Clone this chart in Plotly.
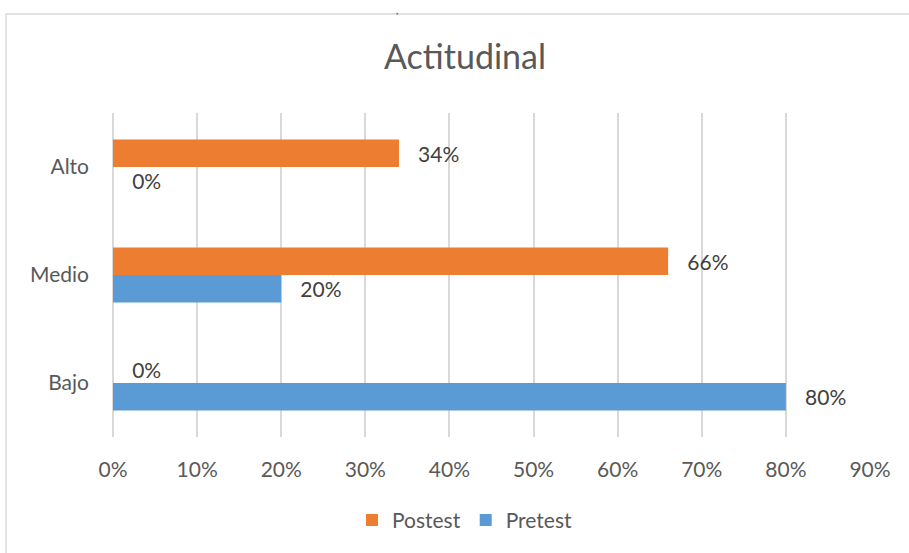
import plotly.graph_objects as go

categories = ["Bajo", "Medio", "Alto"]
pretest = [0.80, 0.20, 0.00]
postest = [0.00, 0.66, 0.34]
x_ticks = [0, 0.1, 0.2, 0.3, 0.4, 0.5, 0.6, 0.7, 0.8, 0.9]
x_ticklabels = ["0%", "10%", "20%", "30%", "40%", "50%", "60%", "70%", "80%", "90%"]

FONT = "Lato"
TXT = "#404040"
AX = "#595959"
PAD = "\u00a0\u00a0\u00a0"

fig = go.Figure()
fig.add_trace(go.Bar(
    y=categories, x=pretest, name="Pretest", orientation="h",
    marker=dict(color="#5B9BD5", line=dict(width=0)),
    text=[f"{PAD}{round(v*100)}%" for v in pretest], textposition="outside",
    textfont=dict(size=21, color=TXT, family=FONT), cliponaxis=False,
))
fig.add_trace(go.Bar(
    y=categories, x=postest, name="Postest", orientation="h",
    marker=dict(color="#ED7D31", line=dict(width=0)),
    text=[f"{PAD}{round(v*100)}%" for v in postest], textposition="outside",
    textfont=dict(size=21, color=TXT, family=FONT), cliponaxis=False,
))

fig.update_layout(
    width=909, height=553,
    margin=dict(l=113, r=39, t=113, b=113),
    paper_bgcolor="white", plot_bgcolor="white",
    barmode="group", bargap=0.49, bargroupgap=0,
    title=dict(text="Actitudinal", x=465 / 909, xanchor="center", y=1 - 57 / 553, yanchor="middle",
               font=dict(size=34, color=AX, family=FONT)),
    font=dict(family=FONT, color=AX),
    showlegend=True,
    legend=dict(orientation="h", x=(465 - 113) / 757, xanchor="center",
                y=-(524 - 440) / 327, yanchor="middle", traceorder="reversed",
                font=dict(size=21, color=AX, family=FONT), itemwidth=30),
    xaxis=dict(range=[0, 0.9], tickvals=x_ticks, ticktext=x_ticklabels,
               showgrid=True, gridcolor="#D9D9D9", gridwidth=1.5, zeroline=True, zerolinecolor="#D9D9D9",
               zerolinewidth=1.5, showline=False, ticks="",
               tickfont=dict(size=21, color=AX, family=FONT), ticklabelstandoff=18),
    yaxis=dict(type="category", categoryorder="array", categoryarray=categories,
               showgrid=False, showline=False, ticks="",
               tickfont=dict(size=21, color=AX, family=FONT), ticklabelstandoff=23),
    shapes=[dict(type="rect", xref="paper", yref="paper",
                 x0=(6 - 113) / 757, x1=1.2, y0=-0.5, y1=(440 - 13) / 327,
                 line=dict(color="#D9D9D9", width=1.5), fillcolor="rgba(0,0,0,0)", layer="below")],
    annotations=[dict(text=",", xref="paper", yref="paper", x=(397 - 113) / 757, y=(440 - 1) / 327,
                      xanchor="center", yanchor="top", showarrow=False,
                      font=dict(size=10, color=TXT, family=FONT))],
)

fig.write_html("out.html", config={"displayModeBar": False},
               post_script="document.body.style.margin='0';")
